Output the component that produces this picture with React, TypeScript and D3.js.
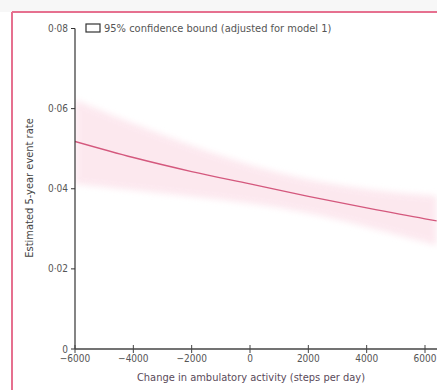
import React from "react";
import * as d3 from "d3";

const steps = [-6000, -4000, -2000, 0, 2000, 4000, 6000, 6400];
const estimate = [0.0518, 0.0478, 0.0443, 0.0412, 0.0381, 0.0352, 0.0325, 0.032];
const upper = [0.0622, 0.0562, 0.0507, 0.0458, 0.0421, 0.0398, 0.0384, 0.0382];
const lower = [0.0412, 0.0396, 0.0381, 0.0364, 0.0341, 0.0305, 0.0266, 0.0258];
const xTicks = [-6000, -4000, -2000, 0, 2000, 4000, 6000];
const yTicks = [0, 0.02, 0.04, 0.06, 0.08];
const yTickLabels = ["0", "0·02", "0·04", "0·06", "0·08"];
const legendLabel = "95% confidence bound (adjusted for model 1)";
const xTitle = "Change in ambulatory activity (steps per day)";
const yTitle = "Estimated 5-year event rate";

export default function App() {
  const W = 437, H = 390;
  const x = d3.scaleLinear().domain([-6000, 6000]).range([75, 425]);
  const y = d3.scaleLinear().domain([0, 0.08]).range([349, 28.5]);
  const font = "'Liberation Sans Narrow', 'DejaVu Sans Condensed', 'Liberation Sans', sans-serif";
  const idx = steps.map((_, i) => i);
  const area = d3.area<number>()
    .x((i) => x(steps[i]))
    .y0((i) => y(lower[i]))
    .y1((i) => y(upper[i]))
    .curve(d3.curveBasis);
  const line = d3.line<number>()
    .x((i) => x(steps[i]))
    .y((i) => y(estimate[i]))
    .curve(d3.curveMonotoneX);
  const textCol = "#555";
  return (
    <svg width={W} height={H} style={{ position: "absolute", left: 0, top: 0, background: "#fff" }} fontFamily={font}>
      <defs>
        <clipPath id="plot">
          <rect x={75} y={20} width={W - 75} height={330} />
        </clipPath>
        <filter id="soft" x="-5%" y="-20%" width="110%" height="140%">
          <feGaussianBlur stdDeviation="3" />
        </filter>
      </defs>
      <rect x={0} y={0} width={W} height={12} fill="#f7f7f7" />
      <line x1={12} y1={12} x2={W} y2={12} stroke="#e6708f" strokeWidth={2} />
      <line x1={12} y1={12} x2={12} y2={H} stroke="#e6708f" strokeWidth={2} />
      <g clipPath="url(#plot)">
        <path d={area(idx) || ""} fill="#fce3eb" opacity={0.8} filter="url(#soft)" />
        <path d={line(idx) || ""} fill="none" stroke="#d4587d" strokeWidth={1.3} />
      </g>
      {/* y axis */}
      <line x1={75} y1={y(0.08)} x2={75} y2={349} stroke="#333" strokeWidth={1.2} />
      {yTicks.map((t, i) => (
        <g key={t}>
          <line x1={71} x2={75} y1={y(t)} y2={y(t)} stroke="#333" strokeWidth={1} />
          <text x={68} y={y(t)} dy="0.35em" textAnchor="end" fontSize={10} fill={textCol}>{yTickLabels[i]}</text>
        </g>
      ))}
      {/* x axis */}
      <line x1={75} y1={349} x2={W} y2={349} stroke="#444" strokeWidth={1.3} />
      {xTicks.map((t) => (
        <g key={t}>
          <line x1={x(t)} x2={x(t)} y1={345} y2={353} stroke="#444" strokeWidth={1} />
          <text x={x(t)} y={362} textAnchor="middle" fontSize={10} fill={textCol}>{t < 0 ? "−" + Math.abs(t) : String(t)}</text>
        </g>
      ))}
      <text x={251} y={381} textAnchor="middle" fontSize={11} fill="#5a4a5a">{xTitle}</text>
      <text transform={`translate(33,188) rotate(-90)`} textAnchor="middle" fontSize={11} fill="#444">{yTitle}</text>
      {/* legend */}
      <rect x={86} y={24} width={14} height={8} fill="#fff" stroke="#333" strokeWidth={1.2} />
      <text x={104} y={31.5} fontSize={11} fill={textCol}>{legendLabel}</text>
    </svg>
  );
}
